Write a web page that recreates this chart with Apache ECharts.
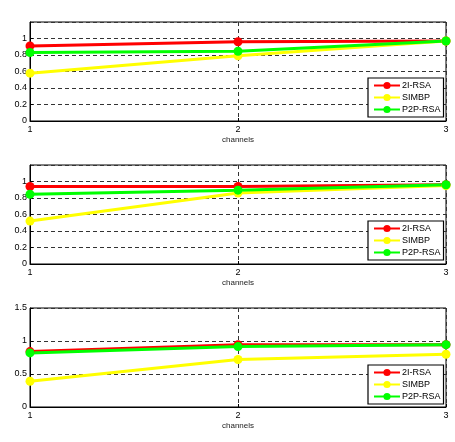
<!DOCTYPE html>
<html>
<head>
<meta charset="utf-8">
<script src="https://cdn.jsdelivr.net/npm/echarts@6/dist/echarts.min.js"></script>
<style>
  html, body { margin: 0; padding: 0; background: #fff; }
  #chart { width: 455px; height: 442px; }
</style>
</head>
<body>
<div id="chart"></div>
<script>
// channels on the x axis
const channels = [1, 2, 3]
const seriesNames = ['2I-RSA', 'SIMBP', 'P2P-RSA']
const seriesColors = ['#ff0000', '#ffff00', '#00ff00']

// panel 1
const p1_2IRSA = [0.91, 0.96, 0.97]
const p1_SIMBP = [0.58, 0.79, 0.97]
const p1_P2PRSA = [0.83, 0.845, 0.97]
// panel 2
const p2_2IRSA = [0.94, 0.94, 0.96]
const p2_SIMBP = [0.52, 0.86, 0.95]
const p2_P2PRSA = [0.845, 0.895, 0.96]
// panel 3
const p3_2IRSA = [0.84, 0.945, 0.945]
const p3_SIMBP = [0.39, 0.72, 0.80]
const p3_P2PRSA = [0.82, 0.915, 0.945]

const panels = [
  { data: [p1_2IRSA, p1_SIMBP, p1_P2PRSA], ymax: 1.2, step: 0.2, top: 22, legendTop: 78 },
  { data: [p2_2IRSA, p2_SIMBP, p2_P2PRSA], ymax: 1.2, step: 0.2, top: 165, legendTop: 221 },
  { data: [p3_2IRSA, p3_SIMBP, p3_P2PRSA], ymax: 1.5, step: 0.5, top: 308, legendTop: 365 }
]

const dashed = { color: '#333', type: [4, 3], width: 1 }
const font = 'Liberation Sans, Arial, sans-serif'

const grid = [], xAxis = [], yAxis = [], series = [], legend = []

panels.forEach((p, i) => {
  grid.push({ left: 30, right: 9, top: p.top, height: 99, show: true,
              borderColor: '#000', borderWidth: 1, backgroundColor: '#fff' })
  xAxis.push({
    gridIndex: i, type: 'value', min: 1, max: 3, interval: 1,
    name: 'channels', nameLocation: 'middle', nameGap: 15,
    nameTextStyle: { fontSize: 8, fontFamily: font, color: '#222' },
    axisLine: { show: true, lineStyle: { color: '#000' } },
    axisTick: { show: true, inside: true, length: 3, lineStyle: { color: '#000' } },
    axisLabel: { fontSize: 9, fontFamily: font, color: '#000', margin: 4 },
    splitLine: { show: true, lineStyle: dashed }
  })
  yAxis.push({
    gridIndex: i, type: 'value', min: 0, max: p.ymax, interval: p.step,
    axisLine: { show: true, lineStyle: { color: '#000' } },
    axisTick: { show: true, inside: true, length: 3, lineStyle: { color: '#000' } },
    axisLabel: { fontSize: 9, fontFamily: font, color: '#000', margin: 3,
                 showMaxLabel: p.ymax === 1.5,
                 formatter: v => String(+v.toFixed(2)) },
    splitLine: { show: true, lineStyle: dashed }
  })
  seriesNames.forEach((name, k) => {
    series.push({
      name: name, type: 'line', xAxisIndex: i, yAxisIndex: i,
      data: channels.map((c, j) => [c, p.data[k][j]]),
      symbol: 'circle', symbolSize: 9,
      lineStyle: { color: seriesColors[k], width: 3 },
      itemStyle: { color: seriesColors[k] },
      legendIndex: i
    })
  })
  legend.push({
    data: seriesNames.map(n => ({ name: n })),
    orient: 'vertical', left: 368, top: p.legendTop,
    itemWidth: 26, itemHeight: 9, itemGap: 3,
    padding: [3, 3, 3, 5],
    borderColor: '#000', borderWidth: 1.2, backgroundColor: '#fff',
    textStyle: { fontSize: 9, fontFamily: font, color: '#000', padding: [0, 0, 0, -3] },
    selectedMode: false
  })
})

const chart = echarts.init(document.getElementById('chart'), null, { renderer: 'canvas' })
chart.setOption({
  animation: false,
  backgroundColor: '#fff',
  grid, xAxis, yAxis, series, legend
})
</script>
</body>
</html>
